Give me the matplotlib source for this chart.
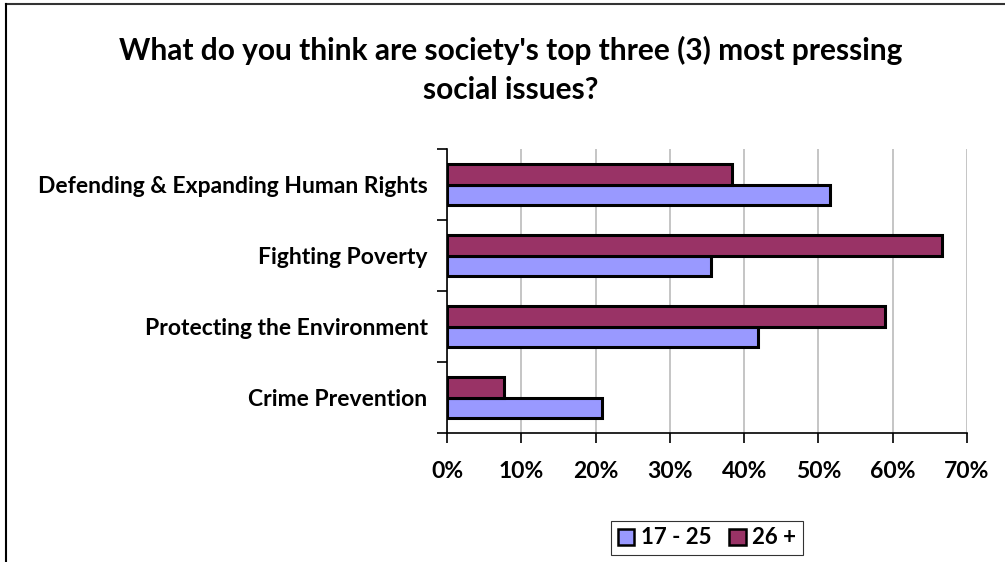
import matplotlib
matplotlib.use("Agg")
import matplotlib.pyplot as plt
from matplotlib.lines import Line2D
from matplotlib.patches import Patch
import numpy as np

categories = ["Crime Prevention", "Protecting the Environment", "Fighting Poverty",
              "Defending & Expanding Human Rights"]
young = [20.9, 41.9, 35.6, 51.6]   # 17 - 25
older = [7.7, 59.0, 66.7, 38.4]    # 26 +
series_names = ["17 - 25", "26 +"]
xticks = [0, 10, 20, 30, 40, 50, 60, 70]
title = "What do you think are society's top three (3) most pressing\nsocial issues?"

plt.rcParams['font.family'] = ['Lato', 'DejaVu Sans']
W, H = 1005, 562
fig = plt.figure(figsize=(W / 100, H / 100), dpi=100)
ax = fig.add_axes([447 / W, 1 - 433 / H, (967 - 447) / W, (433 - 149) / H])

blue = "#9999FF"
maroon = "#993366"
h = 0.29
y = np.arange(len(categories))
ax.barh(y - h / 2, young, height=h, color=blue, edgecolor="black", linewidth=2.2, zorder=3)
ax.barh(y + h / 2, older, height=h, color=maroon, edgecolor="black", linewidth=2.2, zorder=3)

ax.set_xlim(0, 70)
ax.set_ylim(-0.5, len(categories) - 0.5)
ax.set_xticks(xticks)
ax.set_xticklabels([f"{t}%" for t in xticks], fontsize=16.5, fontweight="bold")
ax.set_yticks(y)
ax.set_yticklabels(categories, fontsize=16.5, fontweight="bold")
ax.tick_params(axis="y", length=0, pad=14)
ax.set_yticks(np.arange(-0.5, len(categories), 1), minor=True)
ax.tick_params(axis="y", which="minor", length=7, width=1.2, direction="out")
ax.tick_params(axis="x", length=7, width=1.2, direction="out", pad=13)
ax.grid(axis="x", color="#c0c0c0", linewidth=1.3, zorder=0)
for s in ["top", "right"]:
    ax.spines[s].set_visible(False)
for s in ["left", "bottom"]:
    ax.spines[s].set_linewidth(1.2)
    ax.spines[s].set_zorder(4)

fig.text(511 / W, 1 - 70 / H, title, ha="center", va="center", fontsize=21.5,
         fontweight="bold", linespacing=1.45)

handles = [Patch(facecolor=blue, edgecolor="black", linewidth=1.8),
           Patch(facecolor=maroon, edgecolor="black", linewidth=1.8)]
leg = fig.legend(handles, series_names, loc="center", bbox_to_anchor=(707 / W, 1 - 538 / H),
                 ncol=2, frameon=True, fancybox=False, edgecolor="black",
                 prop={"weight": "bold", "size": 16}, handlelength=0.75, handleheight=0.75,
                 handletextpad=0.3, columnspacing=0.8, borderpad=0.3)
leg.get_frame().set_linewidth(0.8)

# outer frame (top and left edges)
fig.add_artist(Line2D([6 / W, 1], [1 - 4 / H, 1 - 4 / H], color="#333333", linewidth=1.5,
                      transform=fig.transFigure))
fig.add_artist(Line2D([6 / W, 6 / W], [0, 1 - 4 / H], color="black", linewidth=1.5,
                      transform=fig.transFigure))

fig.savefig("out.png", dpi=100)
